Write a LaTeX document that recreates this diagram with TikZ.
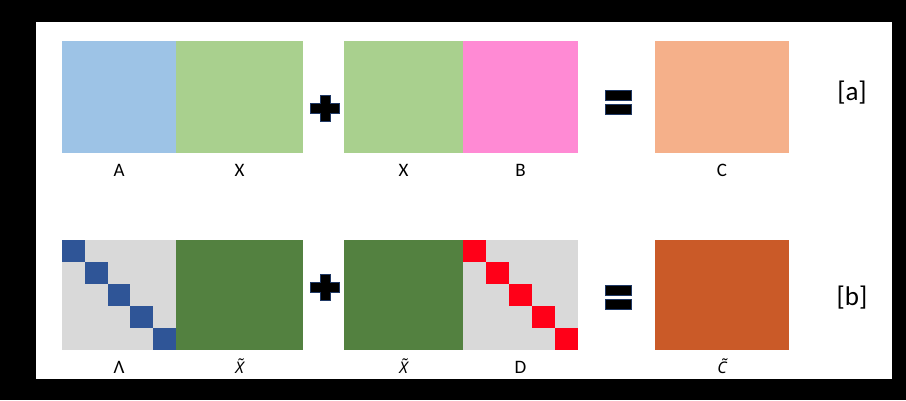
\documentclass[tikz,border=0pt]{standalone}
\usepackage{fontspec}
\setmainfont{Carlito}
\newfontfamily\accfont{Noto Sans}
\usetikzlibrary{positioning}
\definecolor{lblue}{HTML}{9DC3E6}
\definecolor{lgreen}{HTML}{A9D08E}
\definecolor{lpink}{HTML}{FF8AD4}
\definecolor{lsalmon}{HTML}{F5B08A}
\definecolor{lgray}{HTML}{D9D9D9}
\definecolor{dblue}{HTML}{2F5597}
\definecolor{dgreen}{HTML}{538140}
\definecolor{dred}{HTML}{FF0018}
\definecolor{dorange}{HTML}{CA5A28}
\definecolor{signedge}{HTML}{1F3864}
\tikzset{
  blk/.style={inner sep=0pt, outer sep=0pt, minimum height=112pt},
  blkb/.style={blk, minimum height=110pt},
  sq/.style={inner sep=0pt, outer sep=0pt, minimum width=22.8pt, minimum height=22pt},
  lbl/.style={inner sep=0pt, font=\fontsize{19}{22}\selectfont},
  acclbl/.style={inner sep=0pt, font=\accfont\itshape\fontsize{16}{20}\selectfont},
  tag/.style={inner sep=0pt, font=\fontsize{27}{30}\selectfont},
  opsign/.style={fill=black, draw=signedge, line width=0.8pt},
  plussign/.pic={\filldraw[opsign] (-14.5,-5) -- (-5,-5) -- (-5,-13) -- (5,-13) -- (5,-5) -- (14.5,-5) -- (14.5,5) -- (5,5) -- (5,13) -- (-5,13) -- (-5,5) -- (-14.5,5) -- cycle;},
  eqsign/.pic={\filldraw[opsign] (-13,-12) rectangle (13,-2); \filldraw[opsign] (-13,2) rectangle (13,12);}
}
\begin{document}
\begin{tikzpicture}[x=1pt, y=-1pt]
\fill[black] (0,0) rectangle (906,400);
\fill[white] (36,22) rectangle (892,379);
% row [a]
\node[blk, fill=lblue, minimum width=114pt, anchor=north west] (A) at (62,41) {};
\node[blk, fill=lgreen, minimum width=127pt, right=0pt of A] (X) {};
\node[blk, fill=lgreen, minimum width=119pt, anchor=north west] (X2) at (344,41) {};
\node[blk, fill=lpink, minimum width=115pt, right=0pt of X2] (B) {};
\node[blk, fill=lsalmon, minimum width=134pt, anchor=north west] (C) at (655,41) {};
\node[lbl, below=23.5pt of A, anchor=base] (labA) {A};
\node[lbl, below=23.5pt of X, anchor=base] (labX) {X};
\node[lbl, below=23.5pt of X2, anchor=base] (labX2) {X};
\node[lbl, below=23.5pt of B, anchor=base] (labB) {B};
\node[lbl, below=23.5pt of C, anchor=base] (labC) {C};
\pic at (325,108) {plussign};
\pic at (618,102) {eqsign};
\node[tag] (taga) at (852,93) {[a]};
% row [b]
\node[blkb, fill=lgray, minimum width=114pt, anchor=north west] (Lam) at (62,240) {};
\node[blkb, fill=dgreen, minimum width=127pt, right=0pt of Lam] (Xt) {};
\node[blkb, fill=dgreen, minimum width=119pt, anchor=north west] (Xt2) at (344,240) {};
\node[blkb, fill=lgray, minimum width=115pt, right=0pt of Xt2] (D) {};
\node[blkb, fill=dorange, minimum width=134pt, anchor=north west] (Ct) at (655,240) {};
\foreach \i in {0,...,4} {
  \node[sq, fill=dblue, anchor=north west] (lam\i) at ([shift={(\i*22.8,\i*22)}]Lam.north west) {};
  \node[sq, fill=dred, minimum width=23pt, anchor=north west] (d\i) at ([shift={(\i*23,\i*22)}]D.north west) {};
}
\node[lbl, below=23.5pt of Lam, anchor=base] (labLam) {Λ};
\node[acclbl, below=23.5pt of Xt, anchor=base] (labXt) {X̃};
\node[acclbl, below=23.5pt of Xt2, anchor=base] (labXt2) {X̃};
\node[lbl, below=23.5pt of D, anchor=base] (labD) {D};
\node[acclbl, below=23.5pt of Ct, anchor=base] (labCt) {C̃};
\pic at (325,287) {plussign};
\pic at (618,297) {eqsign};
\node[tag] (tagb) at (852,298) {[b]};
\end{tikzpicture}
\end{document}
